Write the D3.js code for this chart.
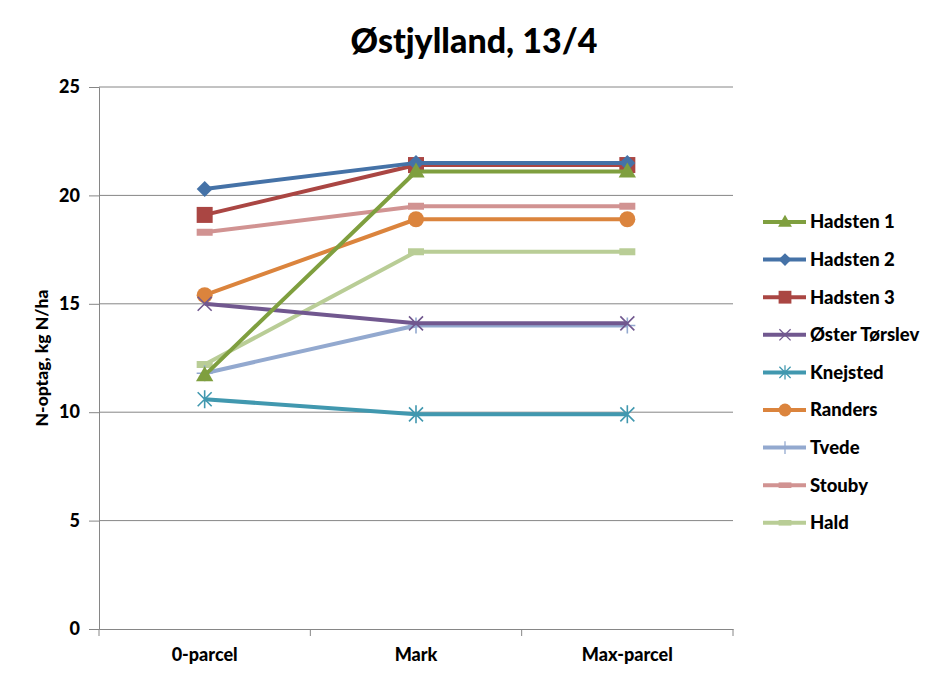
<!DOCTYPE html>
<html>
<head>
<meta charset="utf-8">
<script src="https://cdn.jsdelivr.net/npm/d3@7"></script>
<style>
  body { margin: 0; background: #fff; }
  text { font-family: Lato, "Open Sans", sans-serif; font-weight: 900; fill: #000; }
</style>
</head>
<body>
<div id="chart"></div>
<script>
const categories = ["0-parcel", "Mark", "Max-parcel"];
const seriesNames = ["Hadsten 1", "Hadsten 2", "Hadsten 3", "Øster Tørslev", "Knejsted", "Randers", "Tvede", "Stouby", "Hald"];
const hadsten1 = [11.7, 21.1, 21.1];
const hadsten2 = [20.3, 21.5, 21.5];
const hadsten3 = [19.1, 21.4, 21.4];
const osterTorslev = [15.0, 14.1, 14.1];
const knejsted = [10.6, 9.9, 9.9];
const randers = [15.4, 18.9, 18.9];
const tvede = [11.8, 14.0, 14.0];
const stouby = [18.3, 19.5, 19.5];
const hald = [12.2, 17.4, 17.4];
const yTicks = [0, 5, 10, 15, 20, 25];

const colors = ["#7F9F3F", "#4572A7", "#AA4643", "#71588F", "#4198AF", "#DB843D", "#93A9CF", "#D19392", "#B9CD96"];
const markers = ["triangle", "diamond", "square", "x", "star", "circle", "plus", "dash", "dash"];
const values = [hadsten1, hadsten2, hadsten3, osterTorslev, knejsted, randers, tvede, stouby, hald];
const series = seriesNames.map((name, i) => ({ name, color: colors[i], marker: markers[i], values: values[i] }));

const width = 945, height = 681;
const margin = { top: 87, right: 212, bottom: 52, left: 99 };

const svg = d3.select("#chart").append("svg")
    .attr("width", width)
    .attr("height", height);

const x = d3.scaleBand()
    .domain(categories)
    .range([margin.left, width - margin.right]);

const y = d3.scaleLinear()
    .domain([0, 25])
    .range([height - margin.bottom, margin.top]);

// gridlines
svg.append("g")
    .selectAll("line")
    .data(yTicks.slice(1))
    .join("line")
    .attr("x1", margin.left)
    .attr("x2", width - margin.right)
    .attr("y1", d => y(d))
    .attr("y2", d => y(d))
    .attr("stroke", "#868686")
    .attr("stroke-width", 1);

// y axis
const yAxis = svg.append("g")
    .attr("transform", `translate(${margin.left},0)`)
    .call(d3.axisLeft(y).tickValues(yTicks).tickSize(10).tickPadding(9));
yAxis.selectAll("text").style("font-size", "18px");

// x axis
const xAxis = svg.append("g")
    .attr("transform", `translate(0,${y(0)})`)
    .call(d3.axisBottom(x).tickSize(0).tickPadding(19));
xAxis.selectAll("text").style("font-size", "18px");
xAxis.selectAll(".tick-mark")
    .data(d3.range(categories.length + 1))
    .join("line")
    .attr("x1", i => margin.left + i * x.step())
    .attr("x2", i => margin.left + i * x.step())
    .attr("y1", 0)
    .attr("y2", 7)
    .attr("stroke", "#868686");

svg.selectAll(".domain").attr("stroke", "#868686");
svg.selectAll(".tick line").attr("stroke", "#868686");

const cx = d => x(d) + x.bandwidth() / 2;

function drawMarker(g, type, color) {
    switch (type) {
        case "triangle":
            g.append("path").attr("d", d3.symbol(d3.symbolTriangle, 130)()).attr("fill", color)
                .attr("transform", "translate(0,1)");
            break;
        case "diamond":
            g.append("path").attr("d", "M0,-8L8,0L0,8L-8,0Z").attr("fill", color);
            break;
        case "square":
            g.append("rect").attr("x", -8).attr("y", -8).attr("width", 16).attr("height", 16).attr("fill", color);
            break;
        case "circle":
            g.append("circle").attr("r", 8).attr("fill", color);
            break;
        case "x":
            g.append("path").attr("d", "M-7,-7L7,7M-7,7L7,-7").attr("stroke", color).attr("stroke-width", 1.6);
            break;
        case "star":
            g.append("path").attr("d", "M-7,-7L7,7M-7,7L7,-7M0,-9L0,9").attr("stroke", color).attr("stroke-width", 1.6);
            break;
        case "plus":
            g.append("path").attr("d", "M-8,0L8,0M0,-8L0,8").attr("stroke", color).attr("stroke-width", 1.6);
            break;
        case "dash":
            g.append("rect").attr("x", -8).attr("y", -3.5).attr("width", 16).attr("height", 7).attr("fill", color);
            break;
    }
}

const line = d3.line()
    .x((d, i) => cx(categories[i]))
    .y(d => y(d));

// draw in reverse so earlier series end on top
const seriesG = svg.append("g")
    .selectAll("g")
    .data(series.slice().reverse())
    .join("g");

seriesG.append("path")
    .attr("d", d => line(d.values))
    .attr("fill", "none")
    .attr("stroke", d => d.color)
    .attr("stroke-width", 4)
    .attr("stroke-linejoin", "round");

seriesG.each(function (s) {
    s.values.forEach((v, i) => {
        const g = d3.select(this).append("g")
            .attr("transform", `translate(${cx(categories[i])},${y(v)})`);
        drawMarker(g, s.marker, s.color);
    });
});

// title
svg.append("text")
    .attr("x", 474)
    .attr("y", 53)
    .attr("text-anchor", "middle")
    .style("font-size", "34px")
    .text("Østjylland, 13/4");

// y axis title
svg.append("text")
    .attr("transform", `translate(48,${(y(0) + y(25)) / 2}) rotate(-90)`)
    .attr("text-anchor", "middle")
    .style("font-size", "17.5px")
    .text("N-optag, kg N/ha");

// legend
const legend = svg.append("g")
    .selectAll("g")
    .data(series)
    .join("g")
    .attr("transform", (d, i) => `translate(785,${222 + i * 37.6})`);

legend.append("line")
    .attr("x1", -22)
    .attr("x2", 21)
    .attr("stroke", d => d.color)
    .attr("stroke-width", 4);

legend.each(function (s) {
    const g = d3.select(this).append("g");
    drawMarker(g, s.marker, s.color);
    g.attr("transform", "scale(0.8)");
});

legend.append("text")
    .attr("x", 25)
    .attr("dy", "0.35em")
    .style("font-size", "18.5px")
    .text(d => d.name);
</script>
</body>
</html>
